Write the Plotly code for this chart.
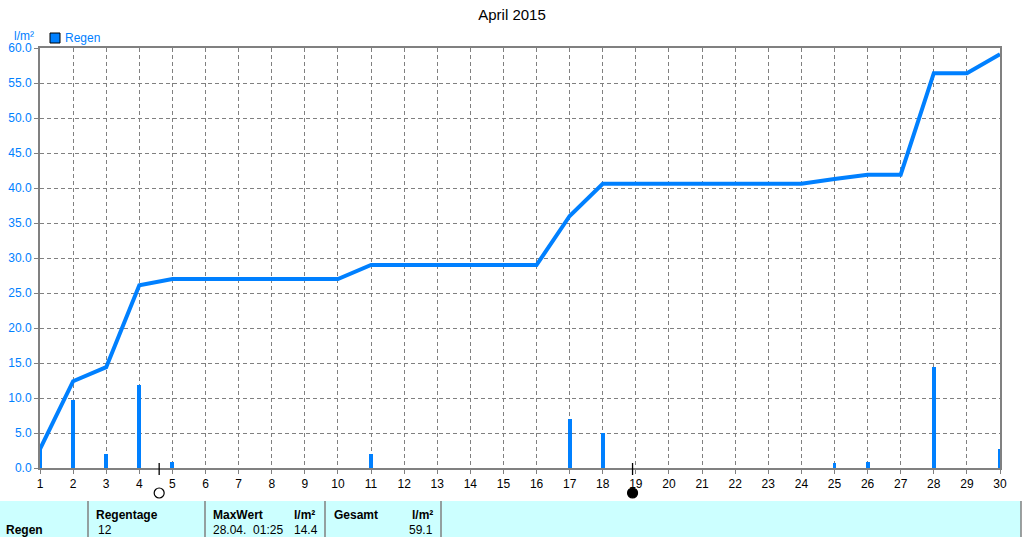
import plotly.graph_objects as go

# ---- data ----
days = list(range(1, 31))
rain_days = [1, 2, 3, 4, 5, 11, 17, 18, 25, 26, 28, 30]
rain_values = [2.7, 9.7, 2.0, 11.8, 0.8, 2.0, 7.0, 5.0, 0.7, 0.8, 14.4, 2.7]
cumulative = [2.7, 12.4, 14.4, 26.1, 27.0, 27.0, 27.0, 27.0, 27.0, 27.0,
              29.0, 29.0, 29.0, 29.0, 29.0, 29.0, 36.0, 40.6, 40.6, 40.6,
              40.6, 40.6, 40.6, 40.6, 41.3, 41.9, 41.9, 56.4, 56.4, 59.1]
full_moon_day = [4.6]
new_moon_day = [18.9]

title_text = "April 2015"
series_name = "Regen"
unit = "l/m²"
table_rain_days = "12"
table_max_time = "28.04.  01:25"
table_max_value = "14.4"
table_total = "59.1"

BLUE = "#0080FF"
GRAY = "#808080"
FONT = "Liberation Sans, Arial, sans-serif"

fig = go.Figure()

fig.add_trace(go.Bar(x=rain_days, y=rain_values, width=0.12,
                     marker=dict(color=BLUE, line=dict(width=0)),
                     name=series_name, showlegend=False))
fig.add_trace(go.Scatter(x=days, y=cumulative, mode="lines",
                         line=dict(color=BLUE, width=4),
                         showlegend=False))

def px_x(px):
    return (px - 40) / 960.0

def px_y(py):
    return (468 - py) / 420.0

DAY_PX = 960 / 29.0
shapes = []
# moon phase markers: tick across the axis and circle below the labels
for d, filled in [(d, False) for d in full_moon_day] + [(d, True) for d in new_moon_day]:
    shapes.append(dict(type="line", xref="x", yref="paper", x0=d, x1=d,
                       y0=px_y(463), y1=px_y(475), line=dict(color="black", width=1.3)))
    r = 5.0 / DAY_PX
    shapes.append(dict(type="circle", xref="x", yref="paper",
                       x0=d - r, x1=d + r, y0=px_y(498), y1=px_y(488),
                       fillcolor="black" if filled else "white",
                       line=dict(color="black", width=1.2)))

# legend box
shapes.append(dict(type="rect", xref="paper", yref="paper",
                   x0=px_x(50), x1=px_x(60), y0=px_y(43), y1=px_y(33),
                   fillcolor=BLUE, line=dict(color="black", width=1)))
# table background
shapes.append(dict(type="rect", xref="paper", yref="paper",
                   x0=px_x(0), x1=px_x(1021), y0=px_y(537), y1=px_y(501),
                   fillcolor="#CCFFFF", line=dict(width=0), layer="below"))
for sx in [88, 205, 325, 441, 1021]:
    shapes.append(dict(type="line", xref="paper", yref="paper",
                       x0=px_x(sx), x1=px_x(sx), y0=px_y(537), y1=px_y(501),
                       line=dict(color=GRAY, width=1.5)))

annotations = [
    dict(text=series_name, xref="paper", yref="paper", x=px_x(63), y=px_y(38),
         xanchor="left", yanchor="middle", showarrow=False,
         font=dict(color=BLUE, size=12, family=FONT)),
    dict(text=unit, xref="paper", yref="paper", x=px_x(12), y=px_y(36),
         xanchor="left", yanchor="middle", showarrow=False,
         font=dict(color=BLUE, size=12, family=FONT)),
]

def tann(text, px, py, bold=False, anchor="left"):
    t = "<b>%s</b>" % text if bold else text
    annotations.append(dict(text=t, xref="paper", yref="paper", x=px_x(px), y=px_y(py),
                            xanchor=anchor, yanchor="middle", showarrow=False,
                            font=dict(color="black", size=12, family=FONT)))

tann("Regentage", 94, 515, True)
tann("MaxWert", 211, 515, True)
tann(unit, 292, 515, True)
tann("Gesamt", 332, 515, True)
tann(unit, 435, 515, True, "right")
tann(series_name, 4, 530, True)
tann(table_rain_days, 96, 530)
tann(table_max_time, 211, 530)
tann(table_max_value, 292, 530)
tann(table_total, 435, 530, anchor="right")

fig.update_layout(
    width=1024, height=537,
    margin=dict(l=40, r=24, t=48, b=69, autoexpand=False),
    paper_bgcolor="white", plot_bgcolor="white",
    title=dict(text=title_text, x=0.5, xanchor="center", y=1 - 15 / 537, yanchor="middle",
               font=dict(size=15, color="black", family=FONT)),
    showlegend=False,
    bargap=0,
    shapes=shapes,
    annotations=annotations,
    font=dict(family=FONT),
)
fig.update_xaxes(range=[1, 30], tickmode="linear", tick0=1, dtick=1, automargin=False,
                 showgrid=True, gridcolor=GRAY, griddash="4px,3px", gridwidth=1,
                 showline=True, linecolor=GRAY, linewidth=2, mirror=True,
                 ticks="outside", ticklen=4, tickcolor=GRAY,
                 tickfont=dict(color="black", size=12, family=FONT), zeroline=False)
fig.update_yaxes(range=[0, 60], tickmode="linear", tick0=0, dtick=5, tickformat=".1f",
                 automargin=False,
                 showgrid=True, gridcolor=GRAY, griddash="4px,3px", gridwidth=1,
                 showline=True, linecolor=GRAY, linewidth=2, mirror=True,
                 ticks="outside", ticklen=4, tickcolor=GRAY,
                 tickfont=dict(color=BLUE, size=12, family=FONT), zeroline=False)

fig.write_html("out.html", config={"displayModeBar": False},
               post_script="document.body.style.margin='0';document.body.style.overflow='hidden';")
